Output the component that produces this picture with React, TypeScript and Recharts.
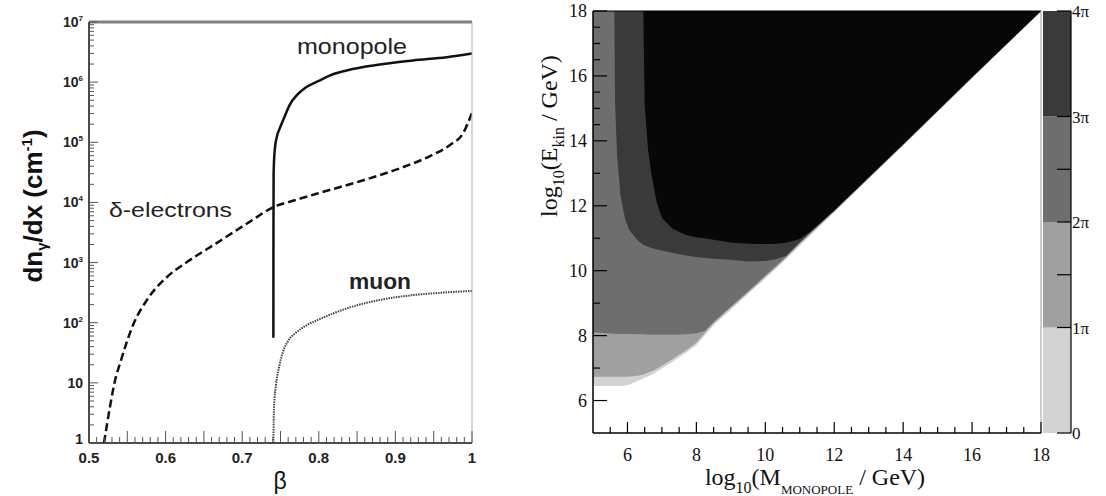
import { LineChart, Line, XAxis, YAxis, ReferenceLine, AreaChart, Area, BarChart, Bar } from 'recharts';

// ---- left panel: photon yield vs beta ----
const monopoleBeta = [0.7407, 0.7408, 0.741, 0.7425, 0.745, 0.749, 0.755, 0.762, 0.772, 0.782, 0.8, 0.815, 0.835, 0.858, 0.89, 0.923, 0.967, 1.0];
const monopoleYield = [56, 3000, 30000, 75000, 120000, 170000, 260000, 420000, 620000, 800000, 1050000, 1300000, 1550000, 1780000, 2050000, 2300000, 2600000, 3000000];

const electronBeta = [0.5196, 0.5274, 0.534, 0.5405, 0.5574, 0.5757, 0.6018, 0.6279, 0.6671, 0.7102, 0.7402, 0.77, 0.8016, 0.8538, 0.906, 0.9452, 0.9713, 0.9883, 1.0];
const electronYield = [1, 4, 11, 21, 91, 240, 575, 1020, 2130, 4800, 8300, 11000, 14500, 22500, 37000, 59000, 90000, 141000, 310000];

const muonBeta = [0.7407, 0.7415, 0.744, 0.748, 0.753, 0.76, 0.77, 0.785, 0.8, 0.82, 0.85, 0.88, 0.92, 0.96, 1.0];
const muonYield = [1, 4, 9, 18, 32, 50, 68, 92, 113, 145, 195, 240, 285, 315, 338];

const betaLabels = [0.5, 0.6, 0.7, 0.8, 0.9, 1];
const yieldDecades = [1, 10, 100, 1e3, 1e4, 1e5, 1e6, 1e7];

// ---- right panel: contour edges (log10 E) per log10 M ----
const massLog = [5, 5.62, 5.64, 5.7, 5.8, 5.93, 6.05, 6.3, 6.46, 6.5, 6.6, 6.7, 6.85, 7.0, 7.3, 7.7, 8.0, 8.25, 8.5, 9.0, 9.5, 10.0, 10.3, 10.6, 11.0, 11.3, 12.0, 14.0, 16.0, 18.0];
const edgeFloor = [6.45, 6.45, 6.45, 6.45, 6.45, 6.46, 6.49, 6.61, 6.68, 6.7, 6.74, 6.79, 6.89, 6.99, 7.19, 7.47, 7.7, 8.02, 8.32, 8.8, 9.28, 9.76, 10.05, 10.35, 10.77, 11.08, 11.8, 13.86, 15.93, 18];
const edge1pi = [6.73, 6.73, 6.73, 6.73, 6.73, 6.73, 6.74, 6.76, 6.8, 6.82, 6.86, 6.9, 6.98, 7.07, 7.27, 7.55, 7.78, 8.09, 8.38, 8.86, 9.33, 9.81, 10.1, 10.4, 10.82, 11.12, 11.82, 13.87, 15.94, 18];
const edge2pi = [8.1, 8.06, 8.06, 8.05, 8.05, 8.05, 8.05, 8.04, 8.04, 8.04, 8.03, 8.03, 8.03, 8.03, 8.03, 8.04, 8.07, 8.14, 8.42, 8.9, 9.37, 9.85, 10.14, 10.43, 10.85, 11.15, 11.84, 13.88, 15.95, 18];
const edge3pi = [18, 18, 15.2, 13.5, 12.3, 11.6, 11.25, 10.93, 10.8, 10.78, 10.74, 10.7, 10.66, 10.62, 10.55, 10.47, 10.42, 10.39, 10.37, 10.34, 10.28, 10.3, 10.35, 10.46, 10.88, 11.18, 11.85, 13.89, 15.96, 18];
const edge4pi = [18, 18, 18, 18, 18, 18, 18, 18, 18, 15.1, 13.7, 12.95, 12.1, 11.62, 11.3, 11.1, 11.03, 11.0, 10.95, 10.87, 10.83, 10.82, 10.83, 10.86, 10.98, 11.2, 11.86, 13.9, 15.97, 18];
const energyTop = 18;

const bandColors = ['#d2d2d2', '#a0a0a0', '#6e6e6e', '#3a3a3a', '#070707'];
const paletteLabels = ['0', '1π', '2π', '3π', '4π'];
const axisMajors = [6, 8, 10, 12, 14, 16, 18];
const energyMinors = [7, 9, 11, 13, 14.5, 15, 15.5, 16.5, 17, 17.5];

const sans = '"Liberation Sans", Arial, Helvetica, sans-serif';
const serif = '"Liberation Serif", "Times New Roman", Times, serif';

const pts = (xs: number[], ys: number[]) => xs.map((b, i) => ({ b, v: ys[i] }));
const monopoleData = pts(monopoleBeta, monopoleYield);
const electronData = pts(electronBeta, electronYield);
const muonData = pts(muonBeta, muonYield);

const logTicks: number[] = [];
for (let k = 0; k < 7; k++) for (let m = 1; m < 10; m++) logTicks.push(m * Math.pow(10, k));
logTicks.push(1e7);

const betaTicks: number[] = [];
for (let i = 50; i <= 100; i++) betaTicks.push(i / 100);

const massTicks: number[] = [];
for (let i = 11; i <= 36; i++) massTicks.push(i / 2);

const contourRows = massLog.map((m, i) => ({
  m,
  b0: [edgeFloor[i], energyTop],
  b1: [edge1pi[i], energyTop],
  b2: [edge2pi[i], energyTop],
  b3: [edge3pi[i], energyTop],
  b4: [edge4pi[i], energyTop],
}));

const paletteRow = [{ name: 'p', s0: 1, s1: 1, s2: 1, s3: 1 }];

const LogTick = (props: any) => {
  const { x, y, payload } = props;
  const v = payload.value;
  const major = yieldDecades.includes(v);
  const exp = Math.round(Math.log10(v));
  return (
    <g>
      <line x1={x} x2={x + (major ? 9 : 5)} y1={y} y2={y} stroke="#555" strokeWidth={1} />
      {major && (
        <text x={x - 6} y={y + (exp === 0 ? 1 : 5)} textAnchor="end" fontFamily={sans} fontWeight="bold" fontSize={14} fill="#222">
          {exp === 0 ? '1' : exp === 1 ? '10' : <>10<tspan dy={-6} fontSize={8}>{exp}</tspan></>}
        </text>
      )}
    </g>
  );
};

const BetaTick = (props: any) => {
  const { x, y, payload } = props;
  const i = Math.round(payload.value * 100);
  const long = i % 5 === 0;
  const lab = betaLabels.find((b) => Math.round(b * 100) === i);
  return (
    <g>
      <line x1={x} x2={x} y1={y} y2={y - (long ? 12 : 6)} stroke="#555" strokeWidth={1} />
      {lab !== undefined && (
        <text x={x} y={y + 20} textAnchor="middle" fontFamily={sans} fontWeight="bold" fontSize={15} fill="#222">
          {String(lab)}
        </text>
      )}
    </g>
  );
};

const EnergyTick = (props: any) => {
  const { x, y, payload } = props;
  const major = axisMajors.includes(payload.value);
  return (
    <g>
      <line x1={x} x2={x + (major ? 14 : 7)} y1={y} y2={y} stroke="#000" strokeWidth={1.2} />
      {major && (
        <text x={x - 6} y={y + 6} textAnchor="end" fontFamily={serif} fontSize={18} fill="#111">
          {payload.value}
        </text>
      )}
    </g>
  );
};

const MassTick = (props: any) => {
  const { x, y, payload } = props;
  const major = axisMajors.includes(payload.value);
  return (
    <g>
      <line x1={x} x2={x} y1={y} y2={y - (major ? 11 : 6)} stroke="#000" strokeWidth={1.2} />
      {major && (
        <text x={x} y={y + 28} textAnchor="middle" fontFamily={serif} fontSize={18} fill="#111">
          {payload.value}
        </text>
      )}
    </g>
  );
};

const PaletteTick = (props: any) => {
  const { x, y, payload } = props;
  const v = payload.value;
  const lab = Number.isInteger(v) ? paletteLabels[v] : null;
  return (
    <g>
      <line x1={x - 14} x2={x} y1={y} y2={y} stroke="#000" strokeWidth={1.2} />
      {lab && (
        <text x={x + 1} y={y + 6} textAnchor="start" fontFamily={serif} fontSize={17} fill="#111">
          {lab}
        </text>
      )}
    </g>
  );
};

export default function App() {
  return (
    <div style={{ position: 'fixed', left: 0, top: 0, width: 1106, height: 496, background: '#fff', overflow: 'hidden' }}>
      <div style={{ position: 'absolute', left: 0, top: 0 }}>
        <LineChart width={480} height={496} margin={{ top: 22, right: 8, left: 0, bottom: 0 }}>
          <XAxis
            type="number"
            dataKey="b"
            domain={[0.5, 1]}
            allowDataOverflow
            ticks={betaTicks}
            interval={0}
            tick={<BetaTick />}
            tickSize={0}
            tickMargin={0}
            height={53}
            axisLine={{ stroke: '#111', strokeWidth: 1.5 }}
          />
          <YAxis
            scale="log"
            domain={[1, 1e7]}
            allowDataOverflow
            ticks={logTicks}
            interval={0}
            tick={<LogTick />}
            tickSize={0}
            tickMargin={0}
            width={89}
            axisLine={{ stroke: '#111', strokeWidth: 1.5 }}
          />
          <Line data={electronData} dataKey="v" type="monotone" stroke="#111" strokeWidth={2.5} strokeDasharray="8 4" dot={false} isAnimationActive={false} />
          <Line data={muonData} dataKey="v" type="monotone" stroke="#444" strokeWidth={2} strokeDasharray="1.5 1" dot={false} isAnimationActive={false} />
          <Line data={monopoleData} dataKey="v" type="monotone" stroke="#111" strokeWidth={2.5} dot={false} isAnimationActive={false} />
          <ReferenceLine y={1e7} stroke="#808080" strokeWidth={3} />
          <ReferenceLine x={1} stroke="#b0b0b0" strokeWidth={1} />
        </LineChart>
      </div>

      <div style={{ position: 'absolute', left: 500, top: 0 }}>
        <AreaChart width={561} height={496} data={contourRows} margin={{ top: 11, right: 20, left: 0, bottom: 0 }}>
          <XAxis
            type="number"
            dataKey="m"
            domain={[5, 18]}
            allowDataOverflow
            ticks={massTicks}
            interval={0}
            tick={<MassTick />}
            tickSize={0}
            tickMargin={0}
            height={63}
            axisLine={{ stroke: '#000', strokeWidth: 1.5 }}
          />
          <YAxis
            type="number"
            domain={[5, 18]}
            allowDataOverflow
            ticks={[...axisMajors, ...energyMinors]}
            interval={0}
            tick={<EnergyTick />}
            tickSize={0}
            tickMargin={0}
            width={93}
            axisLine={{ stroke: '#000', strokeWidth: 1.5 }}
          />
          {['b0', 'b1', 'b2', 'b3', 'b4'].map((k, i) => (
            <Area key={k} dataKey={k} type="linear" stroke="none" fill={bandColors[i]} fillOpacity={1} isAnimationActive={false} />
          ))}
          <ReferenceLine y={18} stroke="#000" strokeWidth={1} />
          <ReferenceLine x={18} stroke="#999" strokeWidth={1} />
        </AreaChart>
      </div>

      <div style={{ position: 'absolute', left: 1043, top: 0 }}>
        <BarChart width={63} height={496} data={paletteRow} margin={{ top: 11, right: 0, left: 0, bottom: 63 }} barCategoryGap={0}>
          <XAxis dataKey="name" hide />
          <YAxis
            orientation="right"
            type="number"
            domain={[0, 4]}
            ticks={[0, 1, 1.5, 2, 2.5, 3, 4]}
            interval={0}
            tick={<PaletteTick />}
            tickSize={0}
            tickMargin={0}
            width={35}
            axisLine={{ stroke: '#000', strokeWidth: 1.2 }}
          />
          {['s0', 's1', 's2', 's3'].map((k, i) => (
            <Bar key={k} dataKey={k} stackId="c" fill={bandColors[i]} isAnimationActive={false} />
          ))}
        </BarChart>
      </div>

      <svg width={1106} height={496} style={{ position: 'absolute', left: 0, top: 0, pointerEvents: 'none' }}>
        <text transform="translate(42,206) rotate(-90)" textAnchor="middle" fontFamily={sans} fontWeight="bold" fontSize={26} fill="#111">
          dn<tspan fontSize={15} dy={5}>γ</tspan>
          <tspan dy={-5}>/dx (cm</tspan>
          <tspan fontSize={15} dy={-10}>-1</tspan>
          <tspan dy={10}>)</tspan>
        </text>
        <text x={280} y={489} textAnchor="middle" fontFamily={sans} fontSize={23} fill="#111">β</text>
        <text x={297} y={54} fontFamily={sans} fontSize={22} fill="#222" textLength={110} lengthAdjust="spacingAndGlyphs">monopole</text>
        <text x={109} y={217} fontFamily={sans} fontSize={21} fill="#222" textLength={123} lengthAdjust="spacingAndGlyphs">δ-electrons</text>
        <text x={349} y={289} fontFamily={sans} fontWeight="bold" fontSize={22} fill="#222" textLength={62} lengthAdjust="spacingAndGlyphs">muon</text>

        <text transform="translate(557,136) rotate(-90)" textAnchor="middle" fontFamily={serif} fontSize={24} fill="#111">
          log<tspan fontSize={16} dy={7}>10</tspan>
          <tspan dy={-7}>(E</tspan>
          <tspan fontSize={16} dy={7}>kin</tspan>
          <tspan dy={-7}> / GeV)</tspan>
        </text>
        <text x={815} y={485} textAnchor="middle" fontFamily={serif} fontSize={24} fill="#111">
          log<tspan fontSize={16} dy={8}>10</tspan>
          <tspan dy={-8}>(M</tspan>
          <tspan fontSize={13} dy={9}>MONOPOLE</tspan>
          <tspan dy={-9}> / GeV)</tspan>
        </text>
      </svg>
    </div>
  );
}
